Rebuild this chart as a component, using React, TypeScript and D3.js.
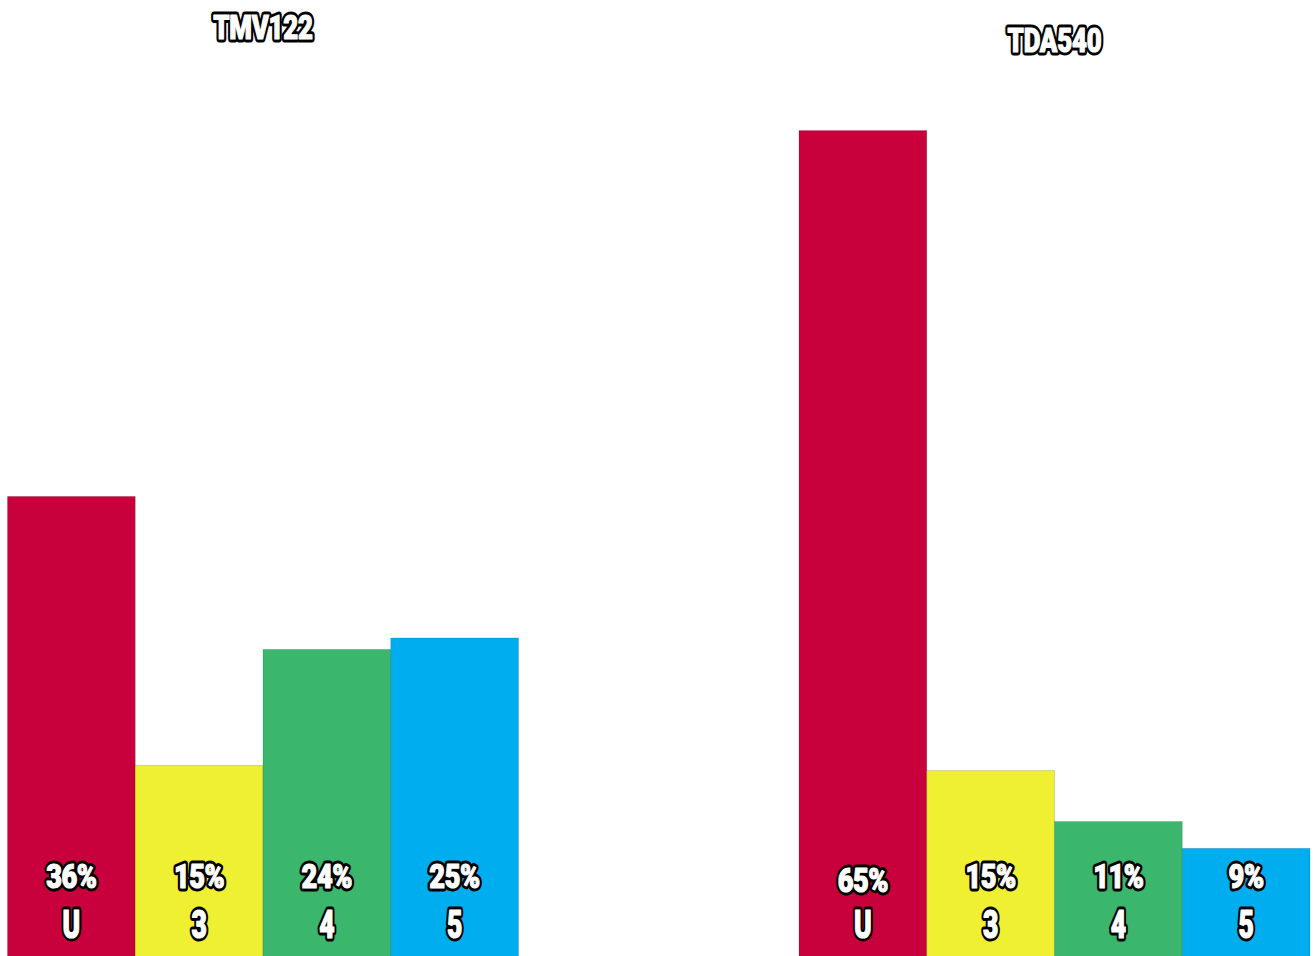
import React from "react";
import * as d3 from "d3";

const groups = ["TMV122", "TDA540"];
const categories = ["U", "3", "4", "5"];
const tmv122Values = [36.2, 15.1, 24.2, 25.1];
const tda540Values = [64.9, 14.7, 10.7, 8.6];
const seriesValues = [tmv122Values, tda540Values];
const colors = ["#C8003C", "#F0F032", "#3BB76D", "#00AEEF"];

const W = 1316;
const H = 956;

const baseStyle: React.CSSProperties = {
  fontFamily: "Roboto, 'Liberation Sans', sans-serif",
  fontWeight: 900,
  strokeLinejoin: "round",
};

function Label({ cx, cy, size, sx, text, ls = 0 }: { cx: number; cy: number; size: number; sx: number; text: string; ls?: number }) {
  const common = {
    x: 0,
    y: 0,
    textAnchor: "middle" as const,
    dominantBaseline: "central" as const,
    fontSize: size,
  };
  return (
    <g transform={`translate(${cx},${cy}) scale(${sx},1)`}>
      <text {...common} style={{ ...baseStyle, letterSpacing: `${ls}px`, fill: "#000", stroke: "#000", strokeWidth: 7 }}>
        {text}
      </text>
      <text {...common} style={{ ...baseStyle, letterSpacing: `${ls}px`, fill: "#fff", stroke: "#fff", strokeWidth: 1.2 }}>
        {text}
      </text>
    </g>
  );
}

export default function App() {
  const x0 = d3.scaleBand<string>().domain(groups).range([7.5, 1310]).paddingInner(0.3544).paddingOuter(0);
  const x1 = d3.scaleBand<string>().domain(categories).range([0, x0.bandwidth()]).padding(0);
  const y = d3.scaleLinear().domain([0, 70]).range([958, 958 - 70 * 12.75]);

  const titleY = [27, 40];
  const pctY = [876, 880];

  return (
    <svg width={W} height={H} style={{ position: "absolute", left: 0, top: 0, background: "#fff" }}>
      <rect x={0} y={0} width={W} height={H} fill="#fff" />
      {groups.map((g, gi) => {
        const gx = x0(g)!;
        const vals = seriesValues[gi];
        return (
          <g key={g} transform={`translate(${gx},0)`}>
            {categories.map((c, ci) => (
              <rect
                key={c}
                x={x1(c)!}
                y={y(vals[ci])}
                width={x1.bandwidth()}
                height={y(0) - y(vals[ci])}
                fill={colors[ci]}
                stroke="rgba(0,0,0,0.18)"
                strokeWidth={0.8}
              />
            ))}
            {categories.map((c, ci) => {
              const cx = x1(c)! + x1.bandwidth() / 2;
              return (
                <g key={"t" + c}>
                  <Label
                    cx={cx}
                    cy={gi === 1 && ci === 0 ? pctY[1] : pctY[0]}
                    size={34}
                    sx={0.8}
                    ls={-0.5}
                    text={Math.round(vals[ci]) + "%"}
                  />
                  <Label cx={cx} cy={925} size={38} sx={0.7} text={c} />
                </g>
              );
            })}
            <Label cx={x0.bandwidth() / 2} cy={titleY[gi]} size={34} sx={0.76} ls={-0.3} text={g} />
          </g>
        );
      })}
    </svg>
  );
}
